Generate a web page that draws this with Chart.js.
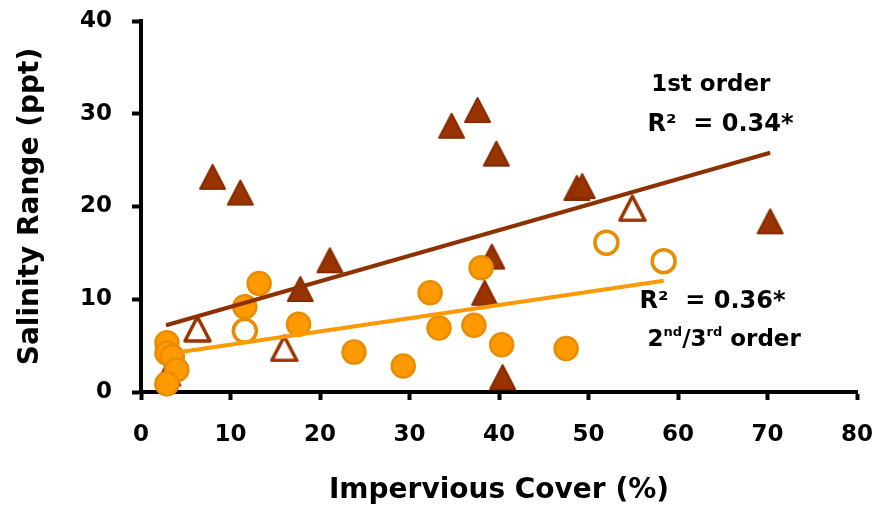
<!DOCTYPE html>
<html>
<head>
<meta charset="utf-8">
<script src="https://cdn.jsdelivr.net/npm/chart.js@4.4.1/dist/chart.umd.min.js"></script>
<style>
  html, body { margin: 0; padding: 0; background: #ffffff; }
  #wrap { width: 881px; height: 512px; position: relative; }
</style>
</head>
<body>
<div id="wrap"><canvas id="chart" width="881" height="512"></canvas></div>
<script>
// Impervious cover (%) vs salinity range (ppt), by stream order

// 1st order sites (filled triangles)
const firstOrderX = [3.0, 8.0, 11.1, 17.8, 21.1, 34.7, 37.6, 38.4, 39.2, 39.7, 40.4, 48.7, 49.3, 70.3];
const firstOrderY = [2.0, 23.2, 21.5, 11.1, 14.2, 28.7, 30.4, 10.7, 14.6, 25.7, 1.6, 22.0, 22.2, 18.4];

// 1st order sites, open triangles
const firstOrderOpenX = [6.3, 16.0, 54.9];
const firstOrderOpenY = [6.8, 4.7, 19.8];

// 2nd/3rd order sites (filled circles)
const upperOrderX = [2.9, 2.9, 3.5, 4.0, 2.9, 11.6, 13.2, 17.6, 23.8, 29.3, 32.3, 33.3, 37.2, 38.0, 40.3, 47.5];
const upperOrderY = [5.3, 4.2, 3.8, 2.4, 0.9, 9.2, 11.7, 7.3, 4.3, 2.8, 10.7, 6.9, 7.2, 13.4, 5.1, 4.7];

// 2nd/3rd order sites, open circles
const upperOrderOpenX = [11.6, 52.0, 58.4];
const upperOrderOpenY = [6.6, 16.1, 14.1];

// Linear trend lines (end points)
const firstTrendX = [2.8, 70.3];
const firstTrendY = [7.2, 25.8];
const upperTrendX = [2.9, 58.4];
const upperTrendY = [4.1, 12.0];

// Axis ticks
const xTicks = [0, 10, 20, 30, 40, 50, 60, 70, 80];
const yTicks = [0, 10, 20, 30, 40];

const BROWN = '#993300';
const BROWN_EDGE = '#862c00';
const ORANGE = '#ff9900';
const ORANGE_EDGE = '#e88c00';
const FONT = "'DejaVu Sans', 'Noto Sans', sans-serif";

function pts(xs, ys) { return xs.map((x, i) => ({ x: x, y: ys[i] })); }

// Excel-like triangle marker
function triangleMarker(fill, stroke, lw) {
  const c = document.createElement('canvas');
  const w = 29, h = 28;
  c.width = w; c.height = h;
  const g = c.getContext('2d');
  g.beginPath();
  g.moveTo(w / 2, 2);
  g.lineTo(w - 2, h - 2);
  g.lineTo(2, h - 2);
  g.closePath();
  g.lineJoin = 'round';
  g.fillStyle = fill;
  g.fill();
  g.lineWidth = lw;
  g.strokeStyle = stroke;
  g.stroke();
  return c;
}
const triFilled = triangleMarker(BROWN, BROWN_EDGE, 2);
const triOpen = triangleMarker('#ffffff', BROWN, 3.5);

// Text annotations for the fits
const fitLabels = {
  id: 'fitLabels',
  afterDatasetsDraw(chart) {
    const ctx = chart.ctx;
    const xs = chart.scales.x, ys = chart.scales.y;
    const big = 'bold 23px ' + FONT;
    const rsq = 'bold 24px ' + FONT;
    const small = 'bold 13px ' + FONT;
    ctx.save();
    ctx.fillStyle = '#000000';
    ctx.textAlign = 'left';
    ctx.textBaseline = 'middle';
    ctx.font = big;
    ctx.fillText('1st order', xs.getPixelForValue(57.0), ys.getPixelForValue(33.1));
    ctx.font = rsq;
    ctx.fillText('R\u00B2  = 0.34*', xs.getPixelForValue(56.6), ys.getPixelForValue(28.8));
    ctx.fillText('R\u00B2  = 0.36*', xs.getPixelForValue(55.7), ys.getPixelForValue(9.7));
    // 2nd/3rd order with superscripts
    let px = xs.getPixelForValue(56.6);
    const py = ys.getPixelForValue(5.6);
    const parts = [['2', false], ['nd', true], ['/3', false], ['rd', true], [' order', false]];
    parts.forEach(([t, sup]) => {
      ctx.font = sup ? small : big;
      ctx.fillText(t, px, sup ? py - 7 : py);
      px += ctx.measureText(t).width;
    });
    ctx.restore();
  }
};

new Chart(document.getElementById('chart'), {
  type: 'scatter',
  data: {
    datasets: [
      {
        label: '1st order fit',
        data: pts(firstTrendX, firstTrendY),
        showLine: true,
        borderColor: '#8f3000',
        borderWidth: 4,
        pointRadius: 0,
        clip: false
      },
      {
        label: '2nd/3rd order fit',
        data: pts(upperTrendX, upperTrendY),
        showLine: true,
        borderColor: ORANGE,
        borderWidth: 4,
        pointRadius: 0,
        clip: false
      },
      {
        label: '2nd/3rd order',
        data: pts(upperOrderX, upperOrderY),
        pointStyle: 'circle',
        pointRadius: 11.5,
        backgroundColor: ORANGE,
        borderColor: ORANGE_EDGE,
        borderWidth: 2.5,
        clip: false
      },
      {
        label: '2nd/3rd order (open)',
        data: pts(upperOrderOpenX, upperOrderOpenY),
        pointStyle: 'circle',
        pointRadius: 11.5,
        backgroundColor: '#ffffff',
        borderColor: ORANGE_EDGE,
        borderWidth: 3.5,
        clip: false
      },
      {
        label: '1st order (open)',
        data: pts(firstOrderOpenX, firstOrderOpenY),
        pointStyle: triOpen,
        pointRadius: 14,
        clip: false
      },
      {
        label: '1st order',
        data: pts(firstOrderX, firstOrderY),
        pointStyle: triFilled,
        pointRadius: 14,
        clip: false
      }
    ]
  },
  options: {
    responsive: false,
    animation: false,
    events: [],
    layout: { padding: { top: 21, right: 24, left: 10, bottom: 0 } },
    plugins: { legend: { display: false }, tooltip: { enabled: false } },
    scales: {
      x: {
        type: 'linear',
        min: 0, max: 80,
        afterBuildTicks(axis) { axis.ticks = xTicks.map(v => ({ value: v })); },
        afterFit(axis) { axis.height = 120; axis.paddingLeft = 0; axis.paddingRight = 0; },
        border: { display: true, color: '#000000', width: 4 },
        grid: { display: true, drawOnChartArea: false, drawTicks: true, tickLength: 8, tickWidth: 4, tickColor: '#000000', color: '#000000' },
        ticks: { color: '#000000', font: { family: FONT, size: 23, weight: 'bold' }, padding: 21, maxRotation: 0 },
        title: { display: true, text: 'Impervious Cover (%)', color: '#000000', font: { family: FONT, size: 28, weight: 'bold' } }
      },
      y: {
        type: 'linear',
        min: 0, max: 40,
        afterBuildTicks(axis) { axis.ticks = yTicks.map(v => ({ value: v })); },
        afterFit(axis) { axis.width = 131; axis.paddingTop = 0; axis.paddingBottom = 0; },
        border: { display: true, color: '#000000', width: 4 },
        grid: { display: true, drawOnChartArea: false, drawTicks: true, tickLength: 9, tickWidth: 4, tickColor: '#000000', color: '#000000' },
        ticks: { color: '#000000', font: { family: FONT, size: 23, weight: 'bold' }, padding: 20 },
        title: { display: true, text: 'Salinity Range (ppt)', color: '#000000', font: { family: FONT, size: 28, weight: 'bold' } }
      }
    }
  },
  plugins: [fitLabels]
});
</script>
</body>
</html>
